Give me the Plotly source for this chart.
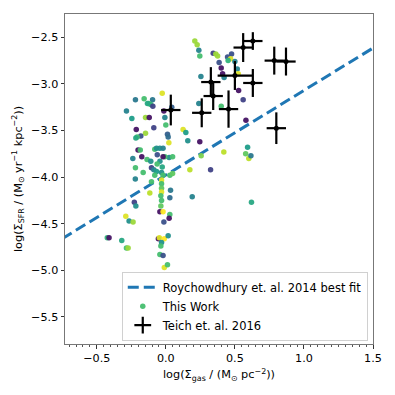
import plotly.graph_objects as go

# Roychowdhury et al. 2014 best fit (end points)
fit_x = [-0.75, 1.5]
fit_y = [-4.66, -2.615]

# This Work: log(Sigma_gas), log(Sigma_SFR), colour value
work_x = [0.246, 0.210, 0.227, 0.239, 0.343, 0.362, 0.375, 0.476, 0.447, 0.469, 0.451, 0.500,
          0.386, 0.401, 0.411, 0.422, 0.517, 0.524, 0.254, 0.527, 0.560, 0.239, 0.401, 0.580,
          0.125, 0.145, 0.159, 0.246, 0.420, 0.256, 0.592, 0.578, 0.601, 0.616, 0.174, 0.324,
          0.191, 0.620,
          -0.026, -0.096, -0.220, -0.157, -0.123, -0.109, -0.094, -0.285, -0.246, -0.147, -0.120,
          -0.014, 0.043, -0.007, 0.000, -0.087, -0.214, -0.147, -0.181, -0.208, -0.217, 0.012,
          0.017, 0.022, -0.201, -0.185, -0.080, -0.067, -0.043, -0.020, -0.239, -0.174, -0.136,
          -0.109, -0.062, 0.024, 0.049, -0.043, -0.063, -0.104, -0.087, -0.067, -0.220, -0.164,
          -0.080, -0.031, -0.020, 0.029, 0.049, -0.221, -0.104, -0.031, -0.031, -0.031, 0.034,
          -0.116, -0.031, -0.036, 0.029, -0.031, -0.036, -0.228, -0.217, -0.043, -0.020, 0.029,
          0.024, -0.014, -0.290, -0.266, -0.237, -0.424, -0.411, -0.319, -0.285, -0.273, -0.054,
          -0.047, -0.011, 0.017, -0.031, -0.036, -0.043, -0.020, -0.011, 0.012, -0.133, -0.007,
          -0.020, -0.026]
work_y = [-2.70, -2.54, -2.58, -2.64, -2.67, -2.68, -2.70, -2.68, -2.71, -2.73, -2.75, -2.76,
          -2.77, -2.83, -2.89, -2.93, -2.84, -2.89, -2.92, -3.07, -3.17, -3.21, -3.24, -3.39,
          -3.49, -3.52, -3.61, -3.62, -3.73, -3.77, -3.68, -3.75, -3.80, -3.77, -3.92, -3.92,
          -4.21, -4.27,
          -3.10, -3.17, -3.17, -3.16, -3.21, -3.22, -3.24, -3.29, -3.37, -3.36, -3.36,
          -3.29, -3.25, -3.36, -3.44, -3.47, -3.49, -3.53, -3.56, -3.57, -3.58, -3.54,
          -3.57, -3.63, -3.71, -3.71, -3.70, -3.69, -3.69, -3.69, -3.80, -3.78, -3.81,
          -3.83, -3.76, -3.79, -3.78, -3.83, -3.86, -3.90, -3.92, -3.94, -3.90, -3.95,
          -3.98, -3.95, -3.98, -3.98, -3.96, -4.02, -4.05, -4.03, -4.07, -4.12, -4.14,
          -4.17, -4.16, -4.20, -4.22, -4.25, -4.31, -4.27, -4.31, -4.37, -4.37, -4.40,
          -4.44, -4.48, -4.42, -4.47, -4.48, -4.65, -4.65, -4.68, -4.76, -4.76, -4.66,
          -4.65, -4.66, -4.63, -4.70, -4.74, -4.83, -4.84, -4.97, -4.94, -3.21, -3.78,
          -3.78, -3.89]
work_c = [0.70, 0.85, 0.85, 0.45, 0.20, 0.85, 0.85, 0.25, 0.25, 0.95, 0.65, 0.45,
          0.25, 0.05, 0.05, 0.45, 0.45, 0.95, 0.45, 0.05, 0.20, 0.45, 0.70, 0.05,
          0.95, 0.55, 0.50, 0.05, 0.90, 0.80, 0.55, 0.75, 0.90, 0.40, 0.90, 0.20,
          0.45, 0.60,
          0.95, 0.40, 0.40, 0.70, 0.70, 0.65, 0.20, 0.45, 0.55, 0.85, 0.05,
          0.05, 0.30, 0.45, 0.70, 0.20, 0.05, 0.85, 0.25, 0.70, 0.60, 0.30,
          0.35, 0.95, 0.05, 0.70, 0.70, 0.50, 0.50, 0.45, 0.45, 0.05, 0.70,
          0.50, 0.25, 0.50, 0.70, 0.50, 0.70, 0.20, 0.45, 0.55, 0.70, 0.70,
          0.70, 0.50, 0.70, 0.70, 0.75, 0.45, 0.70, 0.95, 0.70, 0.75, 0.40,
          0.90, 0.95, 0.70, 0.35, 0.70, 0.75, 0.20, 0.50, 0.05, 1.00, 0.70,
          0.05, 0.25, 0.95, 0.50, 0.85, 0.65, 0.05, 0.60, 0.70, 0.85, 0.05,
          0.95, 1.00, 0.50, 0.50, 0.70, 0.70, 0.25, 0.95, 0.70, 0.60, 0.70,
          0.05, 0.60]

# Teich et al. 2016
teich_x = [0.56, 0.63, 0.785, 0.87, 0.50, 0.63, 0.326, 0.343, 0.26, 0.454, 0.80, 0.036]
teich_y = [-2.61, -2.54, -2.75, -2.76, -2.91, -2.99, -2.98, -3.13, -3.31, -3.27, -3.475, -3.28]
teich_xerr = [0.07, 0.07, 0.07, 0.07, 0.125, 0.07, 0.07, 0.07, 0.07, 0.07, 0.07, 0.07]
teich_yerr = [0.155, 0.095, 0.15, 0.15, 0.155, 0.15, 0.16, 0.15, 0.155, 0.2, 0.17, 0.165]

x_ticks = [-0.5, 0.0, 0.5, 1.0, 1.5]
y_ticks = [-5.5, -5.0, -4.5, -4.0, -3.5, -3.0, -2.5]

FONT = "DejaVu Sans"

fig = go.Figure()
fig.add_trace(go.Scatter(
    x=fit_x, y=fit_y, mode="lines", name="Roychowdhury et. al. 2014 best fit",
    line=dict(color="#1f77b4", width=3, dash="11px,5px")))
fig.add_trace(go.Scatter(
    x=work_x, y=work_y, mode="markers", name="This Work",
    marker=dict(size=5.5, color=work_c, colorscale="Viridis", cmin=0, cmax=1,
                opacity=0.95, line=dict(width=0))))
fig.add_trace(go.Scatter(
    x=teich_x, y=teich_y, mode="markers", name="Teich et. al. 2016", showlegend=False,
    marker=dict(size=5, color="black", symbol="circle"),
    error_x=dict(type="data", array=teich_xerr, color="black", thickness=2.2, width=0),
    error_y=dict(type="data", array=teich_yerr, color="black", thickness=2.2, width=0)))
# legend entry only (cross-shaped symbol like the error-bar glyph)
fig.add_trace(go.Scatter(
    x=[None], y=[None], mode="markers", name="Teich et. al. 2016",
    marker=dict(size=12, color="black", symbol="cross-thin", line=dict(width=2.2, color="black"))))

tick_labels_x = [f"{v:.1f}".replace("-", "\u2212") for v in x_ticks]
tick_labels_y = [f"{v:.1f}".replace("-", "\u2212") for v in y_ticks]

fig.update_layout(
    width=395, height=395,
    margin=dict(l=65, r=22, t=14, b=51),
    paper_bgcolor="white", plot_bgcolor="white",
    font=dict(family=FONT, size=11.2, color="black"),
    showlegend=True,
    legend=dict(x=0.983, y=0.01, xanchor="right", yanchor="bottom",
                bgcolor="rgba(255,255,255,0.85)", bordercolor="#d0d0d0", borderwidth=1,
                font=dict(family=FONT, size=11.5), itemwidth=30, tracegroupgap=0),
)
fig.update_xaxes(
    range=[-0.73, 1.5], tickvals=x_ticks, ticktext=tick_labels_x,
    showgrid=False, zeroline=False, showline=True, mirror=True, linecolor="#777777", linewidth=1,
    ticks="outside", ticklen=3.5, tickcolor="#333333",
    minor=dict(ticks="outside", ticklen=2, dtick=0.05, tickcolor="#555555", showgrid=False),
    title=dict(text="log(Σ<sub>gas</sub> / (M<sub>⊙</sub> pc<sup>−2</sup>))", standoff=6,
               font=dict(size=11.3)),
)
fig.update_yaxes(
    range=[-5.79, -2.25], tickvals=y_ticks, ticktext=tick_labels_y,
    showgrid=False, zeroline=False, showline=True, mirror=True, linecolor="#777777", linewidth=1,
    ticks="outside", ticklen=3.5, tickcolor="#333333",
    title=dict(text="log(Σ<sub>SFR</sub> / (M<sub>⊙</sub> yr<sup>−1</sup> kpc<sup>−2</sup>))",
               standoff=6, font=dict(size=11.3)),
)

fig.write_html("out.html", config={"displayModeBar": False},
               post_script="document.body.style.margin='0';document.body.style.overflow='hidden';")
